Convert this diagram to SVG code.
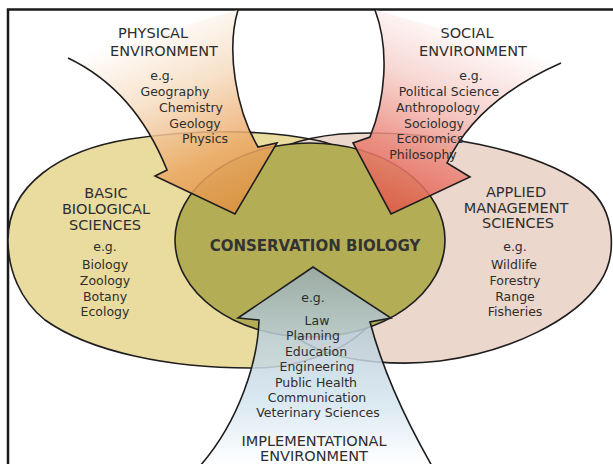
<svg xmlns="http://www.w3.org/2000/svg" width="613" height="464" viewBox="0 0 613 464">
<defs>
<style>
.t{font-family:"DejaVu Sans","Liberation Sans",sans-serif;font-size:12.5px;fill:#2e2e2e;text-anchor:middle}
.h{font-size:14.5px}
.c{font-size:15px;font-weight:bold;fill:#333}
.ol{fill:none;stroke:#1e1e1e;stroke-width:1.6;stroke-linejoin:miter}
</style>
<linearGradient id="gPhys" gradientUnits="userSpaceOnUse" x1="150" y1="25" x2="235" y2="215">
<stop offset="0" stop-color="#ffffff"/>
<stop offset="0.35" stop-color="#f6dcc0"/>
<stop offset="0.7" stop-color="#eba865"/>
<stop offset="1" stop-color="#df8f3e"/>
</linearGradient>
<linearGradient id="gSoc" gradientUnits="userSpaceOnUse" x1="470" y1="25" x2="391" y2="214">
<stop offset="0" stop-color="#ffffff"/>
<stop offset="0.35" stop-color="#f6d0cb"/>
<stop offset="0.7" stop-color="#ea8275"/>
<stop offset="1" stop-color="#e05546"/>
</linearGradient>
<linearGradient id="gImpl" gradientUnits="userSpaceOnUse" x1="313" y1="464" x2="313" y2="267">
<stop offset="0" stop-color="#ffffff"/>
<stop offset="0.3" stop-color="#d6e6f0"/>
<stop offset="0.65" stop-color="#bccfda"/>
<stop offset="1" stop-color="#97abb0"/>
</linearGradient>
</defs>
<rect width="613" height="464" fill="#ffffff"/>
<path d="M8,464 V9.5 H613" fill="none" stroke="#1a1a1a" stroke-width="2.5"/>

<g id="basic-biological-sciences">
<path id="tanShape" d="M8,240 C8,185 60,150 130,139 C190,130 260,128 320,141 C350,148 390,175 405,230 C410,290 370,335 330,352 C300,364 280,368 250,368 C170,368 90,352 45,320 C20,300 8,270 8,240 Z" fill="#eadb9f"/>
</g>
<g id="applied-management-sciences">
<path id="pinkShape" d="M250,170 C270,148 300,138 340,134 C430,128 540,150 588,188 C615,210 618,255 600,282 C575,320 510,352 440,361 C400,366 350,362 320,350 C270,330 245,280 245,230 C245,200 245,180 250,170 Z" fill="#ecd7cd"/>
</g>
<g id="ellipse-outlines">
<path class="ol" d="M8,240 C8,185 60,150 130,139 C190,130 260,128 320,141 C350,148 390,175 405,230 C410,290 370,335 330,352 C300,364 280,368 250,368 C170,368 90,352 45,320 C20,300 8,270 8,240 Z"/>
<path class="ol" d="M250,170 C270,148 300,138 340,134 C430,128 540,150 588,188 C615,210 618,255 600,282 C575,320 510,352 440,361 C400,366 350,362 320,350 C270,330 245,280 245,230 C245,200 245,180 250,170 Z"/>
</g>
<g id="conservation-biology">
<ellipse cx="310" cy="240" rx="135" ry="97" fill="#b3ad56" stroke="#1e1e1e" stroke-width="1.6"/>
</g>

<g id="connectors">
<g id="physical-arrow">
<path d="M68,58 C110,78 145,115 167,170 L155,176 L235,214 L277,143 L258,147 C236,110 226,50 238,10 Z" fill="url(#gPhys)" fill-opacity="0.86"/>
<path class="ol" d="M68,58 C110,78 145,115 167,170 L155,176 L235,214 L277,143 L258,147 C236,110 226,50 238,10"/>
</g>
<g id="social-arrow">
<path d="M375,10 C390,50 385,100 370,137 L353,143 L391,214 L470,177 L447,163 C465,125 500,90 561,63 Z" fill="url(#gSoc)" fill-opacity="0.86"/>
<path class="ol" d="M375,10 C390,50 385,100 370,137 L353,143 L391,214 L470,177 L447,163 C465,125 500,90 561,63"/>
</g>
<g id="implementational-arrow">
<path d="M200,466 C240,420 258,360 259,320 L238,318 L313,267 L391,318 L370,322 C380,360 400,410 432,466 Z" fill="url(#gImpl)" fill-opacity="0.86"/>
<path class="ol" d="M200,466 C240,420 258,360 259,320 L238,318 L313,267 L391,318 L370,322 C380,360 400,410 432,466"/>
</g>
</g>

<g id="physical-environment">
<text class="t h" x="153" y="37.5">PHYSICAL</text>
<text class="t h" x="164" y="55.5">ENVIRONMENT</text>
<text class="t" x="162" y="80">e.g.</text>
<text class="t" x="175" y="96">Geography</text>
<text class="t" x="191" y="112">Chemistry</text>
<text class="t" x="195" y="128">Geology</text>
<text class="t" x="205" y="143">Physics</text>
</g>
<g id="social-environment">
<text class="t h" x="467" y="37.5">SOCIAL</text>
<text class="t h" x="473" y="55.5">ENVIRONMENT</text>
<text class="t" x="471" y="80">e.g.</text>
<text class="t" x="449" y="96">Political Science</text>
<text class="t" x="438" y="112">Anthropology</text>
<text class="t" x="434" y="128">Sociology</text>
<text class="t" x="430" y="143">Economics</text>
<text class="t" x="423" y="159">Philosophy</text>
</g>
<g id="basic-labels">
<text class="t h" x="106" y="197.5">BASIC</text>
<text class="t h" x="106" y="213.5">BIOLOGICAL</text>
<text class="t h" x="105" y="229.5">SCIENCES</text>
<text class="t" x="105" y="251">e.g.</text>
<text class="t" x="105" y="269">Biology</text>
<text class="t" x="105" y="285">Zoology</text>
<text class="t" x="105" y="301">Botany</text>
<text class="t" x="105" y="316">Ecology</text>
</g>
<g id="applied-labels">
<text class="t h" x="516" y="196.5">APPLIED</text>
<text class="t h" x="516" y="212.5">MANAGEMENT</text>
<text class="t h" x="518" y="227.5">SCIENCES</text>
<text class="t" x="515" y="251">e.g.</text>
<text class="t" x="514" y="269">Wildlife</text>
<text class="t" x="515" y="285">Forestry</text>
<text class="t" x="515" y="301">Range</text>
<text class="t" x="515" y="316">Fisheries</text>
</g>
<g id="center-label">
<text class="t c" x="315" y="250.5">CONSERVATION BIOLOGY</text>
</g>
<g id="implementational-environment">
<text class="t" x="313" y="302">e.g.</text>
<text class="t" x="317" y="325">Law</text>
<text class="t" x="313" y="340">Planning</text>
<text class="t" x="316" y="356">Education</text>
<text class="t" x="317" y="371">Engineering</text>
<text class="t" x="316" y="387">Public Health</text>
<text class="t" x="317" y="402">Communication</text>
<text class="t" x="318" y="417">Veterinary Sciences</text>
<text class="t h" x="314" y="445.5">IMPLEMENTATIONAL</text>
<text class="t h" x="314" y="460.5">ENVIRONMENT</text>
</g>
</svg>
